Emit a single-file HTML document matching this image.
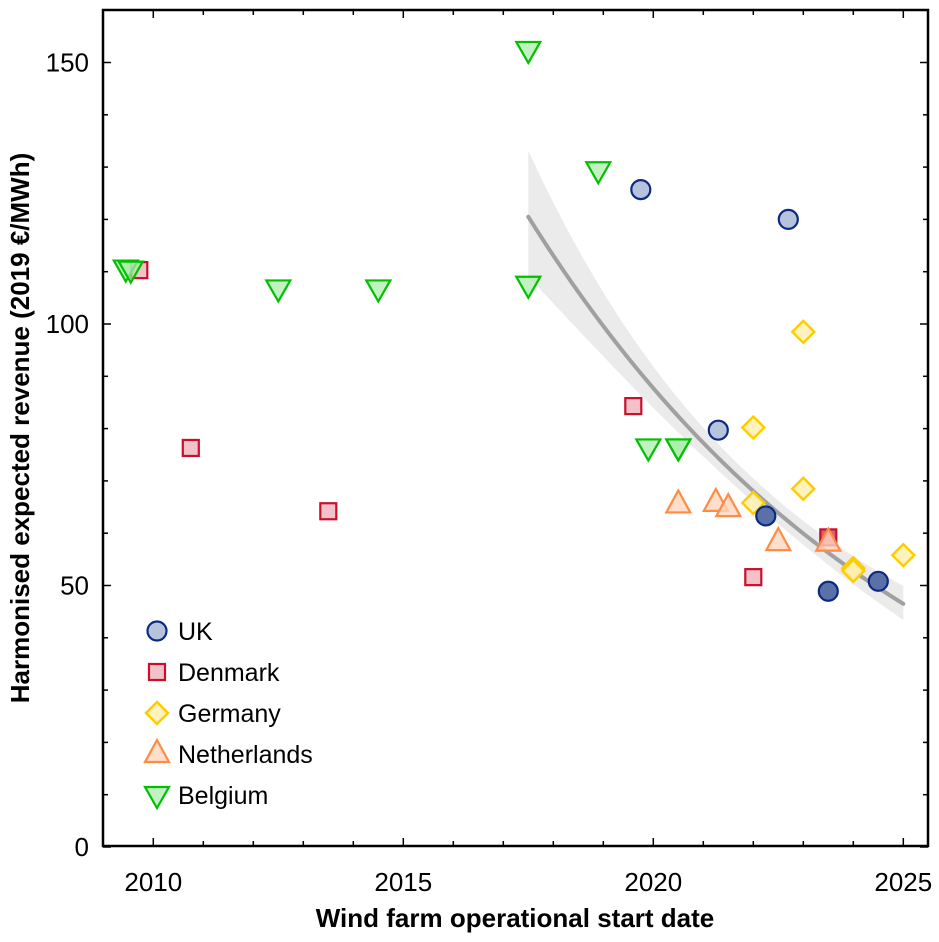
<!DOCTYPE html>
<html><head><meta charset="utf-8"><style>
body{margin:0;background:#fff;width:939px;height:937px;overflow:hidden}
svg{font-family:"Liberation Sans",Arial,sans-serif}
</style></head><body>
<svg id="chart" width="939" height="937">
<g id="band"></g>
<g id="axes"></g>
<g id="marks"></g>
<g id="legend"></g>
<text x="515" y="927" text-anchor="middle" font-size="26" font-weight="bold">Wind farm operational start date</text>
<text transform="translate(29,428) rotate(-90)" text-anchor="middle" font-size="26" font-weight="bold">Harmonised expected revenue (2019 €/MWh)</text>
</svg>
<script>
const xTicks=[2010,2015,2020,2025];
const yTicks=[0,50,100,150];
const ukX=[2019.75,2022.7,2021.3,2022.25,2023.5,2024.5];
const ukY=[125.7,120,79.7,63.3,48.9,50.8];
const ukDark=[0,0,0,1,1,1];
const dkX=[2009.72,2010.75,2013.5,2019.6,2022,2023.5];
const dkY=[110.3,76.3,64.2,84.3,51.6,59.2];
const dkDark=[0,0,0,0,0,1];
const deX=[2023,2022,2023,2022,2024,2024,2025];
const deY=[98.5,80.2,68.5,65.8,53.3,52.8,55.8];
const nlX=[2020.5,2021.25,2021.5,2022.5,2023.5];
const nlY=[65.5,65.8,64.8,58.3,58.2];
const beX=[2009.45,2009.55,2012.5,2014.5,2017.5,2018.9,2017.5,2019.9,2020.5,2020.5];
const beY=[110.6,110.4,106.8,106.8,152.4,129.4,107.5,76.4,76.4,76.4];
const fitStart=2017.5, fitEnd=2025, fitA=120.5, fitEndVal=46.5;

const L=103,R=928,T=10,B=846;
const X=v=>153.3+(v-2010)*50;
const Y=v=>847-v*5.23;
const NS="http://www.w3.org/2000/svg";
function mk(tag,parent,attrs){const e=document.createElementNS(NS,tag);for(const k in attrs)e.setAttribute(k,attrs[k]);parent.appendChild(e);return e;}
const axes=document.getElementById('axes');
const fr=mk('rect',axes,{x:L,y:T,width:R-L,height:B-T,fill:'none',stroke:'#000','stroke-width':2.5});


for(let yr=2010;yr<=2025;yr++){
  const maj=yr%5===0, len=maj?8:5;
  mk('line',axes,{x1:X(yr),x2:X(yr),y1:B,y2:B-len,stroke:'#000','stroke-width':1.5});
  mk('line',axes,{x1:X(yr),x2:X(yr),y1:T,y2:T+len,stroke:'#000','stroke-width':1.5});
}
for(let v=0;v<=160;v+=10){
  const maj=v%50===0,len=maj?8:5;
  mk('line',axes,{x1:L,x2:L+len,y1:Y(v),y2:Y(v),stroke:'#000','stroke-width':1.5});
  mk('line',axes,{x1:R,x2:R-len,y1:Y(v),y2:Y(v),stroke:'#000','stroke-width':1.5});
}
xTicks.forEach(t=>{const e=mk('text',axes,{x:X(t),y:891,'text-anchor':'middle','font-size':26});e.textContent=t;

});
yTicks.forEach(t=>{const e=mk('text',axes,{x:89,y:Y(t)+9,'text-anchor':'end','font-size':26});e.textContent=t;

});

const band=document.getElementById('band');
const b=Math.log(fitEndVal/fitA)/(fitEnd-fitStart);
const f=x=>fitA*Math.exp(b*(x-fitStart));
let up=[],lo=[],ln=[];
for(let x=fitStart;x<=fitEnd+1e-6;x+=0.1){
  const w=0.035+0.07*Math.pow((x-2021.8)/4.3,2);
  up.push([X(x),Y(f(x)*(1+w))]);lo.push([X(x),Y(f(x)*(1-w*0.9))]);ln.push([X(x),Y(f(x))]);
}
const poly=up.concat(lo.reverse()).map(p=>p.join(',')).join(' ');
const bp=mk('polygon',band,{points:poly,fill:'#ebebeb'});


const fl=mk('polyline',band,{points:ln.map(p=>p.join(',')).join(' '),fill:'none',stroke:'#a0a0a0','stroke-width':4,'stroke-linecap':'round'});



const marks=document.getElementById('marks');
function circle(g,x,y,dark){return mk('circle',g,{cx:x,cy:y,r:9.5,fill:dark?'#5b6fa8':'#b7c2dd',stroke:'#0b2a83','stroke-width':2.2});}
function square(g,x,y,dark){return mk('rect',g,{x:x-8,y:y-8,width:16,height:16,fill:dark?'#d9606f':'#f2c2c8',stroke:'#c8102e','stroke-width':2.2});}
function diamond(g,x,y){return mk('polygon',g,{points:`${x},${y-11} ${x+11},${y} ${x},${y+11} ${x-11},${y}`,fill:'#fff0b0','fill-opacity':0.85,stroke:'#ffcc00','stroke-width':2.4});}
function tri(g,x,y){return mk('polygon',g,{points:`${x},${y-14} ${x+12},${y+8} ${x-12},${y+8}`,fill:'#ffd6bf','fill-opacity':0.8,stroke:'#ff8c42','stroke-width':2.2});}
function dtri(g,x,y){return mk('polygon',g,{points:`${x},${y+13} ${x+12},${y-8} ${x-12},${y-8}`,fill:'#a8eca8','fill-opacity':0.7,stroke:'#00c000','stroke-width':2.2});}
dkX.forEach((x,i)=>{const e=square(marks,X(x),Y(dkY[i]),dkDark[i]);

});
beX.forEach((x,i)=>{const e=dtri(marks,X(x),Y(beY[i]));

});
nlX.forEach((x,i)=>{const e=tri(marks,X(x),Y(nlY[i]));

});
deX.forEach((x,i)=>{const e=diamond(marks,X(x),Y(deY[i]));

});
ukX.forEach((x,i)=>{const e=circle(marks,X(x),Y(ukY[i]),ukDark[i]);

});

const lg=document.getElementById('legend');
const names=['UK','Denmark','Germany','Netherlands','Belgium'];
const fns=[circle,square,diamond,tri,dtri];
names.forEach((n,i)=>{const y=631+i*41;
  const m=fns[i](lg,157,y,0);
  
  
  const t=mk('text',lg,{x:178,y:y+9,'font-size':25});t.textContent=n;
  
  
});
</script>
</body></html>
